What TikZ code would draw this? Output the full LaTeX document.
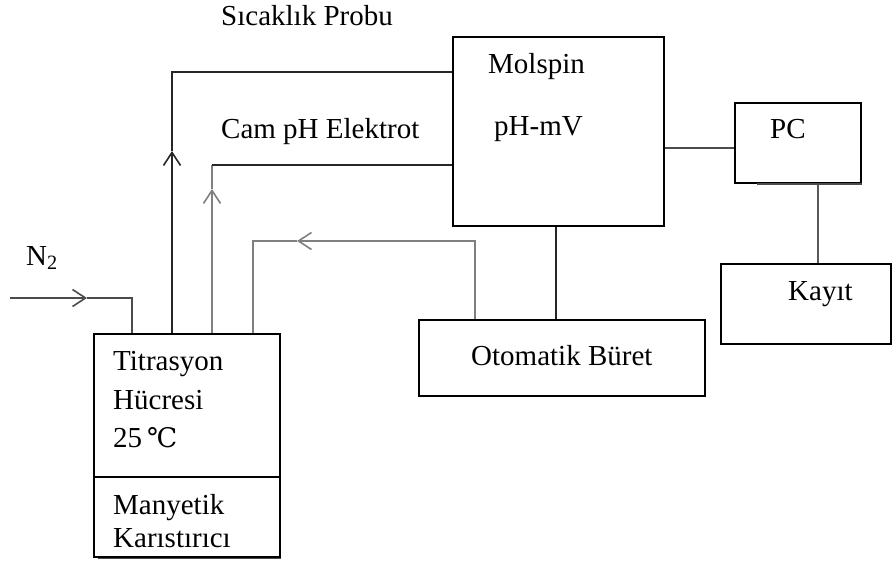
\documentclass[tikz,border=0pt]{standalone}
\usepackage{fontspec}
\setmainfont{Liberation Serif}
\newfontfamily\symfont{DejaVu Serif}
\usetikzlibrary{arrows.meta}
\begin{document}
\begin{tikzpicture}[x=1pt,y=-1pt,
  box/.style={draw, line width=1.6pt, rectangle, inner sep=0pt, anchor=north west},
  lbl/.style={anchor=base west, inner sep=0pt, font=\fontsize{29}{34}\selectfont},
  wire/.style={line width=1.2pt, draw=black!85},
  gwire/.style={line width=1.4pt, draw=black!50},
  tip/.style={-{Straight Barb[length=13pt,width=17pt,line width=1.6pt]}}]
\useasboundingbox (0,0) rectangle (892,563);
% boxes
\node[box, minimum width=186pt, minimum height=143pt] (titr) at (93,333) {};
\node[box, minimum width=186pt, minimum height=80pt] (stir) at (93,476) {};
\node[box, minimum width=211pt, minimum height=189pt] (molspin) at (452,36) {};
\node[box, minimum width=126pt, minimum height=80pt] (pc) at (734,102) {};
\node[box, minimum width=170pt, minimum height=80pt] (kayit) at (720,263) {};
\node[box, minimum width=286pt, minimum height=76pt] (buret) at (418,319) {};
% labels
\node[lbl] (tsicak) at (221,25) {Sıcaklık Probu};
\node[lbl] (tcam) at (221,138) {Cam pH Elektrot};
\node[lbl] (tmol) at (488,73) {Molspin};
\node[lbl] (tphmv) at (494,135) {pH-mV};
\node[lbl] (tpc) at (770,138) {PC};
\node[lbl] (tkayit) at (788,300) {Kayıt};
\node[lbl] (tburet) at (471,365) {Otomatik Büret};
\node[lbl] (tn2) at (26,265) {N\textsubscript{2}};
\node[lbl] (ttitr) at (113,370) {Titrasyon};
\node[lbl] (thuc) at (113,409) {Hücresi};
\node[lbl] (tdeg) at (113,447) {25\,{\symfont\fontsize{27}{30}\selectfont ℃}};
\node[lbl] (tman) at (113,514) {Manyetik};
\node[lbl] (tkar) at (113,547) {Karıstırıcı};
% N2 inlet
\coordinate (n2s) at (10,298);
\coordinate (n2a) at (87,298);
\coordinate (n2k) at (132,298);
\draw[gwire, draw=black!70, tip] (n2s) -- (n2a);
\draw[gwire, draw=black!70] (n2a) -- (n2k) -- (n2k |- titr.north);
% temperature probe
\coordinate (tpa) at (172,151);
\coordinate (tpk) at (172,72);
\draw[wire, tip] (tpa |- titr.north) -- (tpa);
\draw[wire] (tpa) -- (tpk) -- (molspin.west |- tpk);
% glass electrode
\coordinate (gea) at (212,189);
\coordinate (gek) at (212,165);
\draw[gwire, tip] (gea |- titr.north) -- (gea);
\draw[gwire] (gea) -- (gek);
\draw[wire] (gek) -- (molspin.west |- gek);
% burette return
\coordinate (bra) at (297,241);
\coordinate (brk) at (475,241);
\coordinate (brl) at (253,241);
\draw[gwire, tip] (brk |- buret.north) -- (brk) -- (bra);
\draw[gwire] (bra) -- (brl) -- (brl |- titr.north);
% molspin - buret
\coordinate (mb) at (556,0);
\draw[wire] (mb |- molspin.south) -- (mb |- buret.north);
% molspin - pc
\coordinate (mp) at (0,148);
\draw[gwire, draw=black!70] (molspin.east |- mp) -- (pc.west |- mp);
% pc - kayit
\coordinate (pk) at (818,0);
\draw[gwire, draw=black!65] (pk |- pc.south) -- (pk |- kayit.north);
% shadow edges
\draw[line width=1.4pt, draw=black!70] (757,184) -- (pc.south east |- 0,184);
\draw[line width=1.4pt, draw=black!70] (98,558.5) -- (stir.south east |- 0,558.5);
\end{tikzpicture}
\end{document}
